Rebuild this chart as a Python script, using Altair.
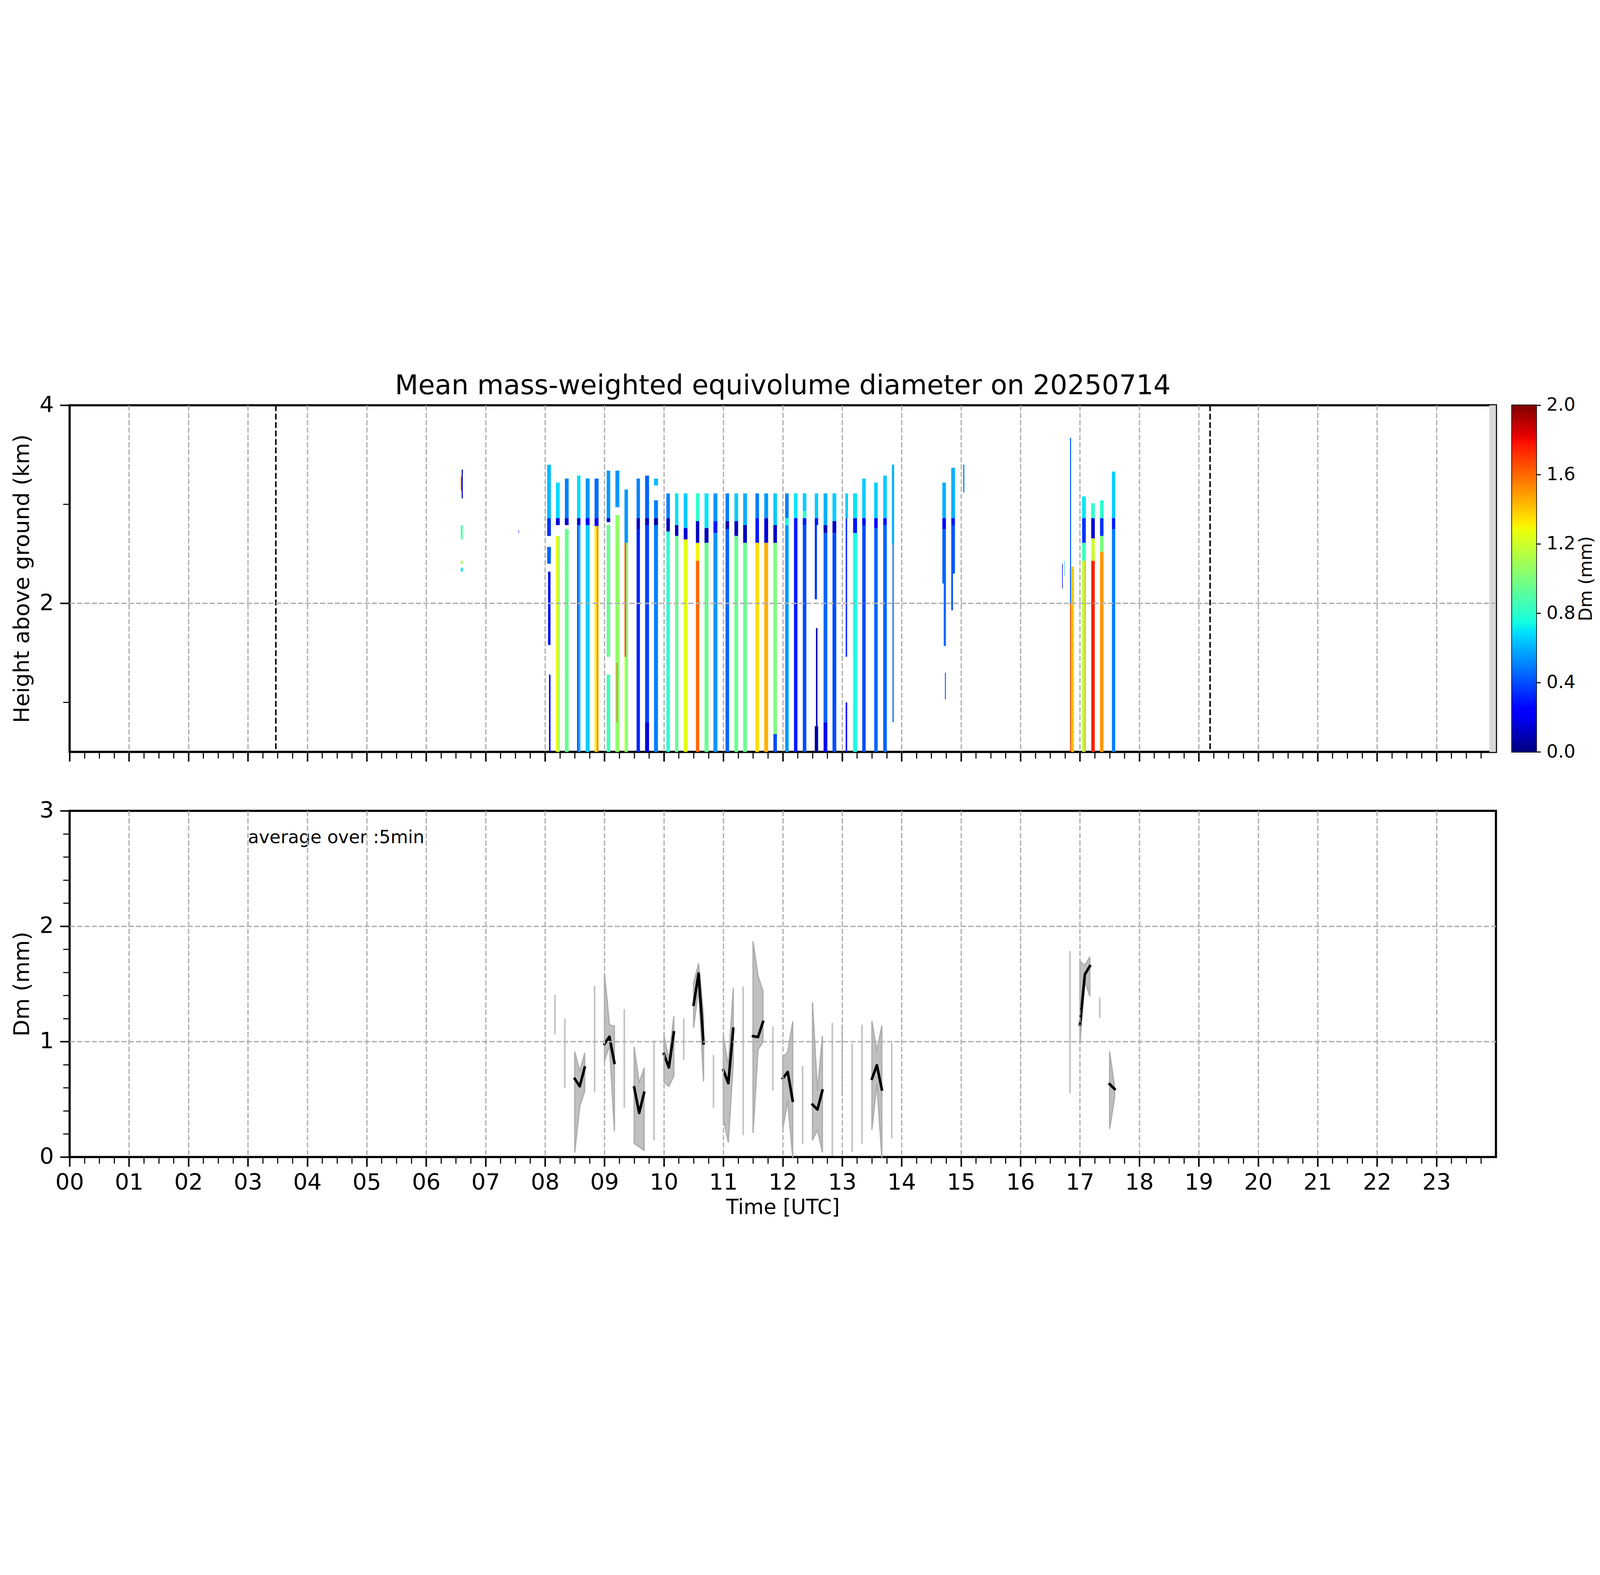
import json
import altair as alt
import pandas as pd

# ------------------------------------------------------------------ text
TITLE = "Mean mass-weighted equivolume diameter on 20250714"
Y_TOP_TITLE = "Height above ground (km)"
Y_BOT_TITLE = "Dm (mm)"
X_TITLE = "Time [UTC]"
CB_TITLE = "Dm (mm)"
AVG_TEXT = "average over :5min"
AVG_POS = (3.0, 2.72)          # (hour, Dm) of the annotation

# ------------------------------------------------------------------ axes
HOUR_LABELS = ["00", "01", "02", "03", "04", "05", "06", "07", "08", "09", "10", "11",
               "12", "13", "14", "15", "16", "17", "18", "19", "20", "21", "22", "23"]
X_DOMAIN = [0, 24]
Y_TOP_DOMAIN = [0.5, 4.0]
Y_TOP_TICKS = [1, 2, 3, 4]
Y_BOT_DOMAIN = [0, 3]
Y_BOT_TICKS = [0, 0.2, 0.4, 0.6, 0.8, 1, 1.2, 1.4, 1.6, 1.8, 2, 2.2, 2.4, 2.6, 2.8, 3]
CB_DOMAIN = [0.0, 2.0]
CB_TICKS = [0.0, 0.4, 0.8, 1.2, 1.6, 2.0]

# jet colormap break points (fraction of colour range) and colours
JET_OFFSETS = [0.0, 0.11, 0.125, 0.34, 0.35, 0.375, 0.64, 0.65, 0.66, 0.89, 0.91, 1.0]
JET_COLORS = ["#000080", "#0000ff", "#0000ff", "#00dbff", "#00e5f7", "#15ffe2",
              "#eeff08", "#f7f500", "#ffec00", "#ff1300", "#e80000", "#800000"]

# sunrise / sunset markers (hours) and the no-data band at the end of the day
SUN_LINES = [3.47, 19.19]
NODATA_BAND = [23.89, 24.0]

# ------------------------------------------------------------------ radar Dm curtain
# each cell: (start minute, end minute, bottom km, top km, Dm mm)
HEAT_EARLY = [
    (394.9, 395.8, 3.14, 3.28, 1.65), (395.8, 396.9, 3.06, 3.35, 0.10),
    (394.9, 396.9, 2.645, 2.79, 0.90), (394.9, 396.9, 2.40, 2.43, 1.10),
    (394.9, 396.9, 2.32, 2.36, 0.70), (453.2, 453.7, 2.71, 2.74, 0.40),
]
HEAT_08 = [
    (482.1, 485.9, 2.86, 3.40, 0.62), (482.1, 485.9, 2.68, 2.86, 0.35),
    (482.1, 485.9, 2.40, 2.57, 0.45), (483.0, 485.5, 1.58, 2.32, 0.28),
    (484.0, 485.5, 0.50, 1.28, 0.25),
    (491.0, 494.8, 2.86, 3.22, 0.68), (491.0, 494.8, 2.79, 2.86, 0.15),
    (491.0, 493.0, 0.50, 2.68, 1.30), (493.0, 494.8, 0.50, 2.68, 1.10),
    (500.0, 503.8, 2.86, 3.26, 0.50), (500.0, 503.8, 2.79, 2.86, 0.15),
    (500.0, 503.8, 0.50, 2.75, 0.95),
    (512.3, 515.7, 2.86, 3.29, 0.68), (512.3, 515.7, 2.79, 2.86, 0.15),
    (512.3, 514.0, 0.50, 2.79, 0.42), (514.0, 515.7, 0.50, 2.79, 0.60),
    (521.0, 525.0, 2.86, 3.26, 0.55), (521.0, 525.0, 2.79, 2.86, 0.25),
    (521.0, 525.0, 0.50, 2.79, 0.65),
    (530.0, 534.0, 2.86, 3.26, 0.45), (530.0, 534.0, 2.78, 2.86, 0.20),
    (530.0, 532.0, 0.50, 2.78, 1.30), (532.0, 534.0, 0.50, 2.78, 1.50),
]
HEAT_09 = [
    (542.2, 545.8, 2.86, 3.34, 0.55), (542.2, 545.8, 2.82, 2.86, 0.15),
    (542.2, 545.8, 1.46, 2.79, 0.95), (542.2, 545.8, 0.50, 1.28, 0.85),
    (551.0, 555.0, 2.97, 3.34, 0.55), (551.0, 555.0, 0.50, 2.89, 1.05),
    (552.3, 553.2, 0.80, 1.40, 1.60),
    (560.2, 563.7, 2.61, 3.15, 0.55), (560.2, 561.9, 1.46, 2.61, 1.62),
    (560.2, 561.9, 0.50, 1.46, 1.15), (561.9, 563.7, 0.50, 2.61, 1.00),
    (572.4, 575.8, 2.86, 3.26, 0.50), (572.4, 575.8, 2.75, 2.86, 0.12),
    (572.4, 575.8, 0.50, 2.75, 0.32),
    (581.0, 585.0, 2.86, 3.29, 0.45), (581.0, 585.0, 2.79, 2.86, 0.10),
    (581.0, 585.0, 0.80, 2.79, 0.38), (581.0, 585.0, 0.50, 0.80, 0.15),
    (590.0, 594.0, 3.19, 3.26, 0.62), (590.0, 594.0, 2.86, 3.04, 0.50),
    (590.0, 594.0, 2.79, 2.86, 0.05), (590.0, 594.0, 0.50, 2.79, 0.50),
]
HEAT_10 = [
    (602.5, 606.0, 2.86, 3.11, 0.50), (602.5, 606.0, 2.725, 2.86, 0.10),
    (602.5, 606.0, 0.50, 2.725, 0.80),
    (611.2, 614.6, 2.79, 3.11, 0.70), (611.2, 614.6, 2.68, 2.79, 0.12),
    (611.2, 614.6, 0.50, 2.68, 0.95),
    (620.0, 623.8, 2.76, 3.11, 0.65), (620.0, 623.8, 2.645, 2.76, 0.15),
    (620.0, 623.8, 0.50, 2.645, 1.25),
    (632.3, 635.7, 2.83, 3.11, 0.80), (632.3, 635.7, 2.61, 2.83, 0.12),
    (632.3, 635.7, 2.43, 2.61, 1.30), (632.3, 635.7, 0.50, 2.43, 1.60),
    (641.0, 645.0, 2.76, 3.11, 0.70), (641.0, 645.0, 2.61, 2.76, 0.10),
    (641.0, 645.0, 0.50, 2.61, 0.95),
    (650.0, 654.0, 2.83, 3.11, 0.55), (650.0, 654.0, 2.71, 2.83, 0.30),
    (650.0, 654.0, 0.50, 2.71, 0.55),
]
HEAT_11 = [
    (662.2, 665.8, 2.83, 3.11, 0.50), (662.2, 665.8, 2.75, 2.83, 0.10),
    (662.2, 665.8, 0.50, 2.75, 0.45),
    (671.2, 674.9, 2.83, 3.11, 0.65), (671.2, 674.9, 2.68, 2.83, 0.12),
    (671.2, 674.9, 0.50, 2.68, 0.95),
    (680.0, 683.8, 2.79, 3.11, 0.60), (680.0, 683.8, 2.61, 2.79, 0.12),
    (680.0, 683.8, 0.50, 2.61, 0.95),
    (692.4, 696.0, 2.86, 3.11, 0.50), (692.4, 696.0, 2.61, 2.86, 0.30),
    (692.4, 696.0, 0.50, 2.61, 1.35),
    (701.3, 705.2, 2.86, 3.11, 0.55), (701.3, 705.2, 2.61, 2.86, 0.15),
    (701.3, 705.2, 0.50, 2.61, 1.45),
    (710.5, 714.1, 2.79, 3.11, 0.65), (710.5, 714.1, 2.61, 2.79, 0.12),
    (710.5, 714.1, 0.68, 2.61, 1.00), (710.5, 714.1, 0.50, 0.68, 0.40),
]
HEAT_12 = [
    (722.4, 725.9, 2.86, 3.11, 0.50), (722.4, 725.9, 2.79, 2.86, 0.75),
    (722.4, 725.9, 0.50, 2.79, 0.55),
    (731.3, 734.8, 2.86, 3.11, 0.70), (731.3, 734.8, 2.79, 2.86, 0.30),
    (731.3, 734.8, 0.50, 2.79, 0.30),
    (740.2, 743.8, 2.93, 3.11, 0.65), (740.2, 743.8, 2.86, 2.93, 0.80),
    (740.2, 743.8, 2.79, 2.86, 0.30), (740.2, 743.8, 0.50, 2.79, 0.40),
    (752.3, 755.7, 2.86, 3.11, 0.65), (752.3, 755.7, 2.79, 2.86, 0.30),
    (752.3, 754.5, 2.04, 2.79, 0.35), (753.5, 755.0, 0.76, 1.75, 0.10),
    (752.3, 755.7, 0.50, 0.76, 0.05),
    (761.2, 765.0, 2.79, 3.11, 0.60), (761.2, 765.0, 2.71, 2.79, 0.10),
    (761.2, 765.0, 0.80, 2.71, 0.45), (761.2, 765.0, 0.50, 0.80, 0.20),
    (770.2, 774.0, 2.83, 3.11, 0.65), (770.2, 774.0, 2.71, 2.83, 0.12),
    (770.2, 774.0, 0.50, 2.71, 0.40),
]
HEAT_13 = [
    (783.2, 785.8, 2.86, 3.11, 0.65), (783.5, 785.0, 1.46, 2.86, 0.35),
    (783.5, 785.0, 0.50, 1.00, 0.20),
    (791.0, 795.0, 2.86, 3.11, 0.70), (791.0, 795.0, 2.71, 2.86, 0.30),
    (791.0, 795.0, 0.50, 2.71, 0.75),
    (800.2, 803.7, 2.86, 3.26, 0.65), (800.2, 803.7, 2.79, 2.86, 0.20),
    (800.2, 803.7, 0.50, 2.79, 0.40),
    (812.3, 815.8, 2.86, 3.22, 0.65), (812.3, 815.8, 2.76, 2.86, 0.25),
    (812.3, 815.8, 0.50, 2.76, 0.45),
    (821.4, 825.0, 2.86, 3.29, 0.65), (821.4, 825.0, 2.79, 2.86, 0.30),
    (821.4, 825.0, 0.50, 2.79, 0.45),
    (830.2, 832.4, 2.60, 3.40, 0.60), (830.8, 832.0, 0.80, 2.60, 0.45),
]
HEAT_14 = [
    (881.1, 884.7, 2.86, 3.22, 0.60), (881.1, 884.7, 2.75, 2.86, 0.25),
    (881.1, 884.7, 2.20, 2.75, 0.45), (882.5, 884.7, 1.57, 2.20, 0.45),
    (883.8, 884.5, 1.03, 1.30, 0.30),
    (890.1, 893.8, 2.86, 3.37, 0.60), (890.1, 893.8, 2.79, 2.86, 0.30),
    (890.1, 893.8, 2.30, 2.79, 0.42), (890.1, 891.8, 1.93, 2.30, 0.40),
    (902.1, 903.3, 3.12, 3.40, 0.50),
]
HEAT_17 = [
    (1002.0, 1002.6, 2.15, 2.40, 0.20), (1004.4, 1004.8, 2.28, 2.43, 0.60),
    (1010.0, 1011.1, 2.00, 3.67, 0.45), (1010.0, 1011.1, 0.50, 2.00, 1.65),
    (1011.3, 1014.0, 0.50, 2.37, 1.40),
    (1022.2, 1025.9, 2.86, 3.08, 0.70), (1022.2, 1025.9, 2.61, 2.86, 0.35),
    (1022.2, 1025.9, 2.43, 2.61, 0.85), (1022.2, 1024.8, 0.50, 2.43, 1.15),
    (1024.8, 1025.9, 0.50, 2.43, 1.45),
    (1031.4, 1035.0, 2.86, 3.01, 0.80), (1031.4, 1035.0, 2.656, 2.86, 0.15),
    (1031.4, 1035.0, 2.43, 2.656, 1.20), (1031.4, 1035.0, 0.50, 2.43, 1.75),
    (1040.3, 1043.8, 2.86, 3.04, 0.80), (1040.3, 1043.8, 2.68, 2.86, 0.35),
    (1040.3, 1043.8, 2.52, 2.68, 1.00), (1040.3, 1043.8, 0.50, 2.52, 1.50),
    (1052.3, 1055.6, 2.86, 3.33, 0.65), (1052.3, 1055.6, 2.75, 2.86, 0.30),
    (1052.3, 1055.6, 0.50, 2.75, 0.50),
]

# ------------------------------------------------------------------ 5-min Dm statistics
DM_TIME_MIN = [490, 500, 510, 515, 520, 530, 540, 545, 550, 560, 570, 575, 580, 590,
               600, 605, 610, 620, 630, 635, 640, 650, 660, 665, 670, 680, 690, 695,
               700, 710, 720, 725, 730, 740, 750, 755, 760, 770, 780, 790, 800, 810,
               815, 820, 830, 1010, 1020, 1025, 1030, 1040, 1050, 1055]
DM_LO = [1.07, 0.605, 0.043, 0.438, 0.570, 0.566, 0.83, 0.97, 0.228, 0.432, 0.118, 0.089,
         0.057, 0.149, 0.653, 0.612, 0.704, 0.849, 1.125, 1.46, 0.658, 0.432, 0.333, 0.129,
         0.82, 0.195, 0.214, 0.932, 0.997, 0.579, 0.247, 0.484, 0.0, 0.118, 0.149, 0.234,
         0.043, 0.017, 0.54, 0.05, 0.122, 0.241, 0.636, 0.0, 0.168, 0.557, 0.984, 1.524,
         1.395, 1.21, 0.247, 0.517]
DM_HI = [1.40, 1.195, 0.909, 0.743, 0.899, 1.48, 1.59, 1.145, 1.135, 1.276, 0.951, 0.642,
         0.770, 1.004, 1.053, 0.846, 1.218, 1.195, 1.507, 1.675, 1.224, 0.879, 1.047, 0.793,
         1.458, 1.474, 1.866, 1.57, 1.438, 1.129, 0.868, 0.908, 1.171, 0.784, 1.337, 0.576,
         1.043, 1.158, 1.136, 0.98, 1.142, 1.175, 0.921, 1.136, 0.984, 1.78, 1.697, 1.662,
         1.732, 1.379, 0.912, 0.603]
DM_MEAN = [1.22, 0.90, 0.678, 0.613, 0.776, 1.02, 0.98, 1.043, 0.816, 0.85, 0.603, 0.382,
           0.557, 0.58, 0.892, 0.776, 1.08, 1.02, 1.32, 1.59, 0.984, 0.66, 0.754, 0.64,
           1.112, 0.83, 1.047, 1.04, 1.171, 0.85, 0.682, 0.737, 0.488, 0.45, 0.454, 0.412,
           0.576, 0.59, 0.84, 0.52, 0.63, 0.678, 0.796, 0.586, 0.58, 1.17, 1.145, 1.583,
           1.655, 1.29, 0.632, 0.589]

# ------------------------------------------------------------------ layout (px)
PLOT_W = 6585
TOP_H = 1600
BOT_H = 1598
CB_W = 112
FONT = "DejaVu Sans"
GRID_COLOR = "#b0b0b0"
GRID_DASH = [24, 10]

# ------------------------------------------------------------------ data frames
heat_rows = HEAT_EARLY + HEAT_08 + HEAT_09 + HEAT_10 + HEAT_11 + HEAT_12 + HEAT_13 + HEAT_14 + HEAT_17
heat = pd.DataFrame(heat_rows, columns=["m0", "m1", "h0", "h1", "dm"])
heat["t0"] = heat["m0"] / 60.0
heat["t1"] = heat["m1"] / 60.0

sun = pd.DataFrame({"t0": SUN_LINES})
band = pd.DataFrame({"t0": [NODATA_BAND[0]], "t1": [NODATA_BAND[1]]})

dm = pd.DataFrame({"tmin": DM_TIME_MIN, "lo": DM_LO, "hi": DM_HI, "mean": DM_MEAN})
dm["t"] = dm["tmin"] / 60.0
dm["seg"] = (dm["tmin"].diff() != 5).cumsum()
run_len = dm.groupby("seg")["t"].transform("size")
runs = dm[run_len >= 2]
singles = dm[run_len == 1]
avg = pd.DataFrame({"t": [AVG_POS[0]], "v": [AVG_POS[1]], "label": [AVG_TEXT]})

cb = pd.DataFrame({"lo": [CB_DOMAIN[0]], "hi": [CB_DOMAIN[1]]})


def cond(test, yes, no):
    return {"condition": {"test": test, "value": yes}, "value": no}


IS_HOUR = "datum.value % 1 === 0"
HOUR_GRID = "datum.value % 1 === 0 && datum.value > 0"
X_VALUES = [q / 4 for q in range(96)]
label_js = json.dumps(HOUR_LABELS)

x_scale = alt.Scale(domain=X_DOMAIN, nice=False, zero=False)

x_axis_top = alt.Axis(
    values=X_VALUES, labels=False, title=None, domain=False,
    tickSize=cond(IS_HOUR, 44, 30), tickWidth=cond(IS_HOUR, 7, 5), tickColor="black",
    grid=True, gridOpacity=cond(HOUR_GRID, 1, 0), gridColor=GRID_COLOR, gridDash=GRID_DASH,
    gridWidth=6, zindex=1,
)
x_axis_bot = alt.Axis(
    values=X_VALUES, title=X_TITLE, domain=False,
    labelExpr=f"datum.value % 1 === 0 ? {label_js}[datum.value] : ''",
    labelFontSize=104, labelPadding=25, labelOverlap=False, labelFlush=False, labelBound=False,
    titleFontSize=95, titlePadding=16, titleFontWeight="normal",
    tickSize=cond(IS_HOUR, 44, 30), tickWidth=cond(IS_HOUR, 7, 5), tickColor="black",
    grid=True, gridOpacity=cond(HOUR_GRID, 1, 0), gridColor=GRID_COLOR, gridDash=GRID_DASH,
    gridWidth=6, zindex=1,
)

IS_EVEN = "datum.value % 2 === 0"
y_axis_top = alt.Axis(
    values=Y_TOP_TICKS, title=Y_TOP_TITLE, domain=False,
    labelExpr="datum.value % 2 === 0 ? format(datum.value, 'd') : ''",
    labelFontSize=104, labelPadding=29, labelOverlap=False, labelFlush=False,
    titleFontSize=101, titlePadding=28, titleFontWeight="normal",
    tickSize=cond(IS_EVEN, 44, 30), tickWidth=cond(IS_EVEN, 7, 5), tickColor="black",
    grid=True, gridOpacity=cond("datum.value === 2", 1, 0), gridColor=GRID_COLOR,
    gridDash=GRID_DASH, gridWidth=6, zindex=1,
)
IS_INT = "abs(datum.value - round(datum.value)) < 0.001"
INNER_INT = IS_INT + " && datum.value > 0.5 && datum.value < 2.5"
y_axis_bot = alt.Axis(
    values=Y_BOT_TICKS, title=Y_BOT_TITLE, domain=False,
    labelExpr=f"{IS_INT} ? format(datum.value, 'd') : ''",
    labelFontSize=104, labelPadding=29, labelOverlap=False, labelFlush=False,
    titleFontSize=101, titlePadding=28, titleFontWeight="normal",
    tickSize=cond(IS_INT, 44, 30), tickWidth=cond(IS_INT, 7, 5), tickColor="black",
    grid=True, gridOpacity=cond(INNER_INT, 1, 0), gridColor=GRID_COLOR, gridDash=GRID_DASH,
    gridWidth=6, zindex=1,
)

y_top_scale = alt.Scale(domain=Y_TOP_DOMAIN, nice=False, zero=False)
y_bot_scale = alt.Scale(domain=Y_BOT_DOMAIN, nice=False, zero=False)
jet_scale = alt.Scale(domain=[o * CB_DOMAIN[1] for o in JET_OFFSETS], range=JET_COLORS,
                      interpolate="rgb", clamp=True)

# ------------------------------------------------------------------ top panel
XT0 = alt.X("t0:Q", scale=x_scale, axis=x_axis_top)

band_layer = alt.Chart(band).mark_rect(color="#d9d9d9").encode(x=XT0, x2="t1:Q")
heat_layer = alt.Chart(heat).mark_rect(strokeWidth=0).encode(
    x=XT0, x2="t1:Q",
    y=alt.Y("h0:Q", scale=y_top_scale, axis=y_axis_top), y2="h1:Q",
    color=alt.Color("dm:Q", scale=jet_scale, legend=None),
)
sun_layer = alt.Chart(sun).mark_rule(color="black", strokeWidth=7, strokeDash=[27, 12]).encode(x=XT0)

top = alt.layer(band_layer, heat_layer, sun_layer).properties(
    width=PLOT_W, height=TOP_H,
    title=alt.TitleParams(TITLE, fontSize=125, fontWeight="normal", font=FONT, anchor="middle",
                          frame="group", offset=-27, color="black"),
    view=alt.ViewBackground(stroke="black", strokeWidth=10),
)

# ------------------------------------------------------------------ colour bar
grad = alt.LinearGradient(
    gradient="linear",
    stops=[alt.GradientStop(color=c, offset=o) for o, c in zip(JET_OFFSETS, JET_COLORS)],
    x1=0, x2=0, y1=1, y2=0,
)
cb_axis = alt.Axis(
    orient="right", values=CB_TICKS, format=".1f", title=CB_TITLE, domain=False, grid=False,
    tickSize=21, tickWidth=5, tickColor="black",
    labelFontSize=84, labelPadding=26, labelOverlap=False, labelFlush=False,
    titleFontSize=82, titleFontWeight="normal", titleAngle=270, titleBaseline="top",
    titlePadding=10,
)
cbar = alt.Chart(cb).mark_rect(fill=grad).encode(
    y=alt.Y("lo:Q", scale=alt.Scale(domain=CB_DOMAIN, nice=False, zero=False), axis=cb_axis),
    y2="hi:Q",
    x=alt.value(0), x2=alt.value(CB_W),
).properties(width=CB_W, height=TOP_H, view=alt.ViewBackground(stroke="black", strokeWidth=6))

# ------------------------------------------------------------------ bottom panel
XB = alt.X("t:Q", scale=x_scale, axis=x_axis_bot)

area_layer = alt.Chart(runs).mark_area(fill="#c0c0c0", stroke="#adadad", strokeWidth=6,
                                       opacity=1, strokeJoin="round").encode(
    x=XB, y=alt.Y("lo:Q", scale=y_bot_scale, axis=y_axis_bot), y2="hi:Q", detail="seg:N",
)
single_layer = alt.Chart(singles).mark_rule(color="#c0c0c0", strokeWidth=7, strokeCap="round").encode(
    x=XB, y=alt.Y("lo:Q", scale=y_bot_scale, axis=y_axis_bot), y2="hi:Q",
)
mean_layer = alt.Chart(runs).mark_line(color="black", strokeWidth=12, strokeCap="square",
                                       strokeJoin="round").encode(
    x=XB, y=alt.Y("mean:Q", scale=y_bot_scale, axis=y_axis_bot), detail="seg:N",
)
text_layer = alt.Chart(avg).mark_text(align="left", baseline="alphabetic", fontSize=83,
                                      font=FONT, color="black").encode(
    x=XB, y=alt.Y("v:Q", scale=y_bot_scale, axis=y_axis_bot), text="label:N",
)

bottom = alt.layer(area_layer, single_layer, mean_layer, text_layer).properties(
    width=PLOT_W, height=BOT_H,
    view=alt.ViewBackground(stroke="black", strokeWidth=10),
)

row = alt.hconcat(top, cbar, spacing=74, bounds="flush")
chart = alt.vconcat(row, bottom, spacing=162, bounds="full").properties(
    padding={"left": 32, "top": 90, "right": 5, "bottom": 5},
    background="white",
).configure(font=FONT).configure_axis(
    labelFont=FONT, titleFont=FONT, labelColor="black", titleColor="black",
).configure_view(stroke="black", strokeWidth=10)

chart.save("out.html", embed_options={"renderer": "svg", "actions": False})
